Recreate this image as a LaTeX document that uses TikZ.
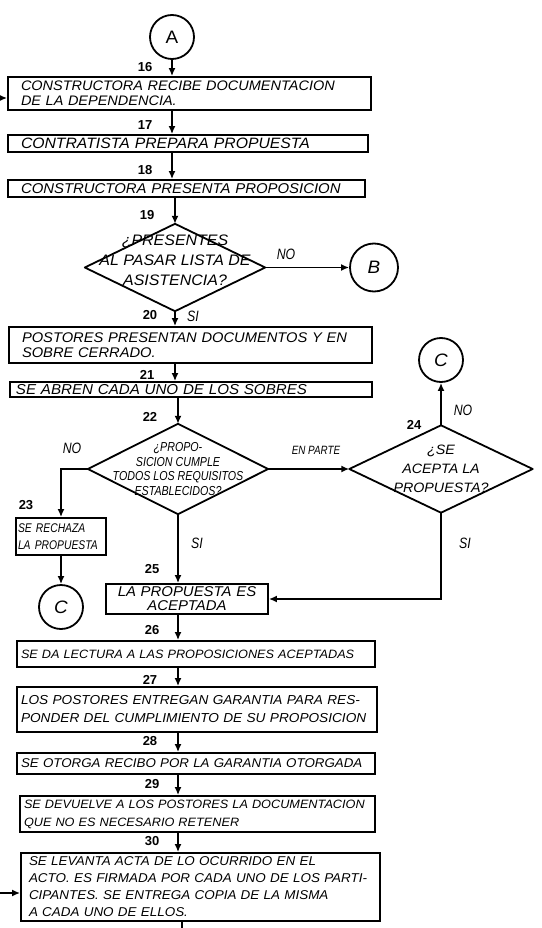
\documentclass[tikz,border=0pt]{standalone}
\usepackage{fontspec}
\setmainfont{Liberation Sans}
\newfontfamily\mano[FakeStretch=1.05]{Liberation Sans}
\newfontfamily\angosta[FakeStretch=0.82]{Liberation Sans}
\usetikzlibrary{arrows.meta}

\begin{document}
\begin{tikzpicture}[x=1pt, y=-1pt,
    caja/.style 2 args={draw, line width=1.8pt, align=left, inner ysep=1pt,
      font=\mano\itshape\fontsize{#1}{#2}\selectfont},
    rombo/.style 2 args={align=center, inner sep=0pt,
      font=\mano\itshape\fontsize{#1}{#2}\selectfont},
    conector/.style={draw, circle, line width=1.8pt, minimum size=44pt, inner sep=0pt,
      font=\mano\itshape\fontsize{18}{18}\selectfont},
    num/.style={font=\bfseries\fontsize{13}{13}\selectfont},
    etiq/.style={font=\angosta\itshape\fontsize{15}{15}\selectfont},
    flecha/.style={line width=1.8pt, -{Latex[length=8pt,width=7pt]}},
    linea/.style={line width=1.8pt}]

\useasboundingbox (0,0) rectangle (541,928);

\node[conector, font=\mano\fontsize{18}{18}\selectfont] (A) at (172,37) {A};

\node[num] (n16) at (145,67) {16};
\node[caja={13.8}{15}, text width=337pt, inner xsep=13pt, minimum height=33pt] (b16) at (189.5,93.5)
  {CONSTRUCTORA RECIBE DOCUMENTACION\\DE LA DEPENDENCIA.};
\node[num] (n17) at (145,125) {17};
\node[caja={15}{15}, text width=334pt, inner xsep=13pt, minimum height=17pt] (b17) at (188,143.5)
  {CONTRATISTA PREPARA PROPUESTA};
\node[num] (n18) at (145,170) {18};
\node[caja={14.2}{15}, text width=331pt, inner xsep=13pt, minimum height=17pt] (b18) at (186.5,188.5)
  {CONSTRUCTORA PRESENTA PROPOSICION};

\node[num] (n19) at (147,215) {19};
\node[rombo={15.2}{20}, minimum width=180pt, minimum height=87pt] (d19) at (175,267.5)
  {¿PRESENTES\\AL PASAR LISTA DE\\ASISTENCIA?\\[-6pt]};
\node[conector, minimum size=48pt] (B) at (374,267.5) {B};
\node[etiq] (no19) at (286,254) {NO};
\node[etiq] (si19) at (193,316) {SI};

\node[num] (n20) at (150,315) {20};
\node[caja={14}{15}, text width=337pt, inner xsep=13pt, minimum height=36pt] (b20) at (190.5,345)
  {POSTORES PRESENTAN DOCUMENTOS Y EN\\SOBRE CERRADO.};
\node[num] (n21) at (147,375) {21};
\node[caja={14.4}{15}, text width=350pt, inner xsep=6pt, minimum height=15pt] (b21) at (191,389.5)
  {SE ABREN CADA UNO DE LOS SOBRES};

\node[num] (n22) at (150,417) {22};
\node[rombo={13}{14.5}, font=\angosta\itshape\fontsize{13}{14.5}\selectfont,
  minimum width=180pt, minimum height=90pt] (d22) at (178,469)
  {¿PROPO-\\SICION CUMPLE\\TODOS LOS REQUISITOS\\ESTABLECIDOS?};
\node[etiq] (no22) at (72,448) {NO};
\node[etiq, font=\angosta\itshape\fontsize{12}{12}\selectfont] (parte) at (316,450) {EN PARTE};

\node[num] (n24) at (414,425) {24};
\node[rombo={13.6}{19}, minimum width=183pt, minimum height=87pt] (d24) at (441,469)
  {¿SE\\ACEPTA LA\\PROPUESTA?};
\node[conector] (C1) at (441,360) {C};
\node[etiq] (no24) at (463,410) {NO};

\node[num] (n23) at (26,505) {23};
\node[caja={13}{17}, font=\angosta\itshape\fontsize{12.6}{17}\selectfont,
  text width=86pt, inner xsep=2pt, minimum height=37pt] (b23) at (61,536.5)
  {SE RECHAZA\\LA PROPUESTA};
\node[conector] (C2) at (61,607) {C};
\node[etiq] (si22) at (197,543) {SI};
\node[etiq] (si24) at (465,543) {SI};

\node[num] (n25) at (152,569) {25};
\node[caja={14.2}{14}, align=center, text width=154pt, inner xsep=4pt, minimum height=30pt] (b25) at (187,599)
  {LA PROPUESTA ES\\ACEPTADA};
\node[num] (n26) at (152,630) {26};
\node[caja={12.1}{14}, text width=350pt, inner xsep=4pt, minimum height=26pt] (b26) at (196,654)
  {SE DA LECTURA A LAS PROPOSICIONES ACEPTADAS};
\node[num] (n27) at (150,680) {27};
\node[caja={13}{18}, text width=352pt, inner xsep=4pt, minimum height=45pt] (b27) at (197,709.5)
  {LOS POSTORES ENTREGAN GARANTIA PARA RES-\\PONDER DEL CUMPLIMIENTO DE SU PROPOSICION};
\node[num] (n28) at (150,741) {28};
\node[caja={12.7}{14}, text width=350pt, inner xsep=4pt, minimum height=21pt] (b28) at (196,763.5)
  {SE OTORGA RECIBO POR LA GARANTIA OTORGADA};
\node[num] (n29) at (152,784) {29};
\node[caja={12.1}{18}, text width=347pt, inner xsep=4pt, minimum height=36pt] (b29) at (197.5,814)
  {SE DEVUELVE A LOS POSTORES LA DOCUMENTACION\\QUE NO ES NECESARIO RETENER};
\node[num] (n30) at (152,841) {30};
\node[caja={12.8}{17}, text width=343pt, inner xsep=8pt, minimum height=68pt] (b30) at (200.5,887)
  {SE LEVANTA ACTA DE LO OCURRIDO EN EL\\ACTO. ES FIRMADA POR CADA UNO DE LOS PARTI-\\CIPANTES. SE ENTREGA COPIA DE LA MISMA\\A CADA UNO DE ELLOS.};

\coordinate (ent16) at (0,98);
\coordinate (ent30) at (0,893);
\coordinate (fin) at (182,928);

% rombos
\foreach \rom in {d19,d22,d24}
  \draw[linea, line join=round] (\rom.north) -- (\rom.east) -- (\rom.south) -- (\rom.west) -- cycle;

% flechas
\draw[flecha] (A) -- (A |- b16.north);
\foreach \a/\b in {b16/b17,b17/b18}
  \draw[flecha] (A |- \a.south) -- (A |- \b.north);
\draw[flecha] (d19.north |- b18.south) -- (d19.north);
\draw[flecha] (d19.east) -- (B);
\draw[flecha] (d19.south) -- (d19.south |- b20.north);
\draw[flecha] (d19.south |- b20.south) -- (d19.south |- b21.north);
\draw[flecha] (d22.north |- b21.south) -- (d22.north);
\draw[flecha] (d22.west) -| (b23.north);
\draw[flecha] (b23) -- (C2);
\draw[flecha] (d22.east) -- (d24.west);
\draw[flecha] (d24.north) -- (C1);
\draw[flecha] (d24.south) |- (b25.east);
\draw[flecha] (d22.south) -- (d22.south |- b25.north);
\foreach \a/\b in {b25/b26,b26/b27,b27/b28,b28/b29,b29/b30}
  \draw[flecha] (d22.south |- \a.south) -- (d22.south |- \b.north);
\draw[flecha] (ent16) -- (ent16 -| b16.west);
\draw[flecha] (ent30) -- (ent30 -| b30.west);
\draw[linea] (fin |- b30.south) -- (fin);
\end{tikzpicture}
\end{document}
